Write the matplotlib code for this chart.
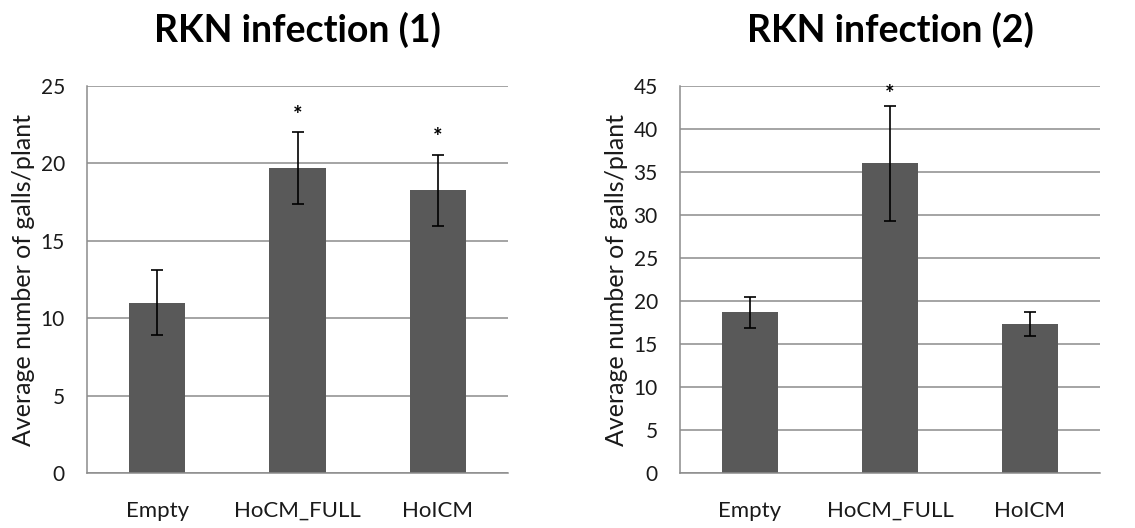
import matplotlib
matplotlib.use("Agg")
from matplotlib import pyplot as plt

categories = ["Empty", "HoCM_FULL", "HoICM"]

# RKN infection (1)
means_1 = [11.0, 19.7, 18.25]
errors_1 = [2.1, 2.3, 2.3]
stars_1 = ["", "*", "*"]

# RKN infection (2)
means_2 = [18.7, 36.0, 17.3]
errors_2 = [1.8, 6.7, 1.4]
stars_2 = ["", "*", ""]

plt.rcParams['font.family'] = ['Lato', 'DejaVu Sans']

fig = plt.figure(figsize=(11.35, 5.28), dpi=100)
ax1 = fig.add_axes([87 / 1135, 55 / 528, 421 / 1135, 387 / 528])
ax2 = fig.add_axes([680 / 1135, 55 / 528, 420 / 1135, 387 / 528])


def draw_panel(ax, means, errors, stars, title, ymax, step, star_gap):
    x = range(len(categories))
    ax.set_axisbelow(True)
    ax.yaxis.grid(True, color='#8c8c8c', linewidth=1.1)
    ax.bar(x, means, width=0.4, color='#595959', zorder=2)
    ax.errorbar(x, means, yerr=errors, fmt='none', ecolor='black',
                elinewidth=1.2, capsize=4, capthick=1.2, zorder=3)
    for i, s in enumerate(stars):
        if s:
            ax.text(i, means[i] + errors[i] + star_gap, s, ha='center',
                    va='center', fontsize=16, fontweight='bold')
    ax.set_xlim(-0.5, 2.5)
    ax.set_ylim(0, ymax)
    ax.set_yticks(range(0, ymax + 1, step))
    ax.set_xticks(list(x))
    ax.set_xticklabels(categories)
    ax.tick_params(axis='y', length=0, pad=16, labelsize=15, colors='#1a1a1a')
    ax.tick_params(axis='x', length=0, pad=20, labelsize=16, colors='#1a1a1a')
    for side in ['top', 'right']:
        ax.spines[side].set_visible(False)
    ax.spines['left'].set_color('#8c8c8c')
    ax.spines['bottom'].set_color('#8c8c8c')
    ax.spines['left'].set_linewidth(1.1)
    ax.spines['bottom'].set_linewidth(1.1)
    ax.set_ylabel('Average number of galls/plant', fontsize=18, color='#1a1a1a',
                  labelpad=4)
    ax.set_title(title, fontsize=27, fontweight='bold', pad=32)


draw_panel(ax1, means_1, errors_1, stars_1, 'RKN infection (1)', 25, 5, 1.1)
draw_panel(ax2, means_2, errors_2, stars_2, 'RKN infection (2)', 45, 5, 1.3)

fig.savefig('out.png', dpi=100)
